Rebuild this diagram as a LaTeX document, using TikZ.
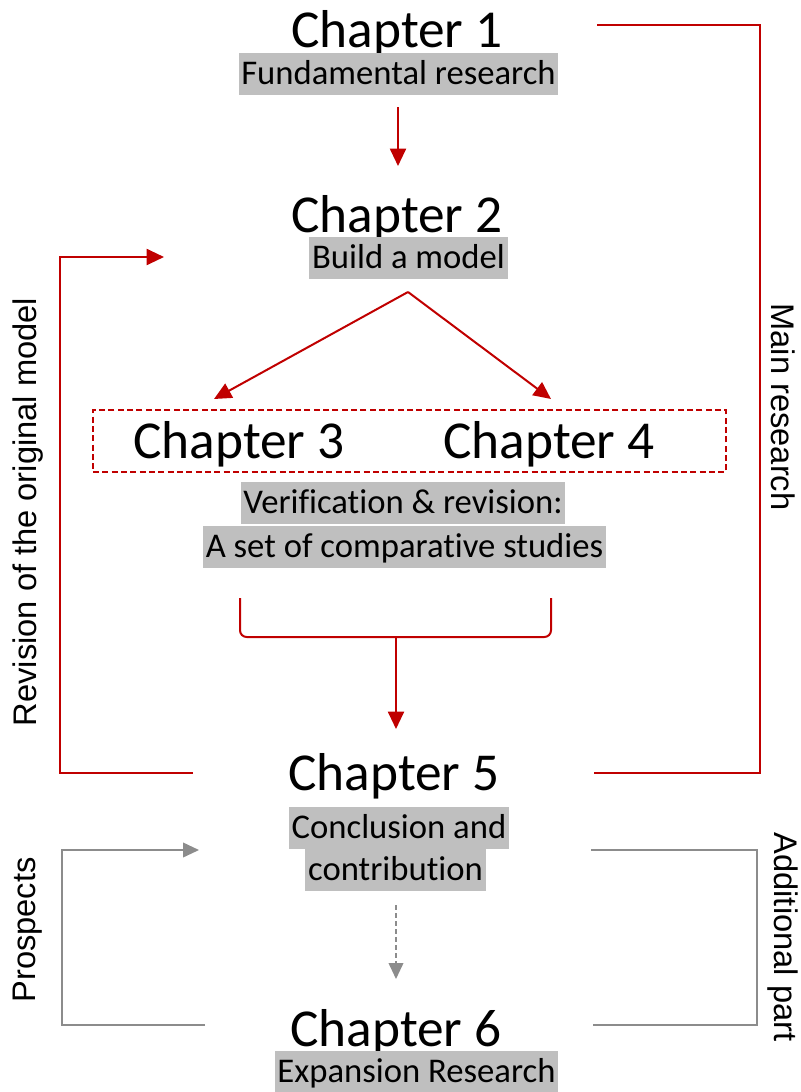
\documentclass[tikz,border=0pt]{standalone}
\usepackage{fontspec}
\setmainfont{Carlito}[Ligatures=NoCommon]
\newfontfamily\arialf{Liberation Sans}
\usetikzlibrary{arrows.meta}
\definecolor{darkred}{HTML}{C00000}
\definecolor{hlgray}{HTML}{BFBFBF}
\definecolor{linegray}{HTML}{8C8C8C}

\begin{document}
\begin{tikzpicture}[x=0.75pt,y=-0.75pt,
  chap/.style={font=\fontsize{40}{48}\selectfont, inner sep=0pt, anchor=base},
  sub/.style={font=\fontsize{26}{31}\selectfont, fill=hlgray, inner xsep=2pt, inner ysep=0pt,
              text height=23pt, text depth=8.5pt, anchor=base},
  side/.style={font=\arialf\fontsize{24.5}{29}\selectfont, inner sep=0pt},
  redline/.style={draw=darkred, line width=1.5pt},
  redarrow/.style={redline, -{Triangle[width=12pt,length=13pt]}},
  grayline/.style={draw=linegray, line width=1.3pt},
  grayarrow/.style={grayline, -{Triangle[width=11pt,length=12pt]}},
  groupbox/.style={draw=darkred, line width=1.2pt, dash pattern=on 4.5pt off 2.5pt,
                   minimum width=474.75pt, minimum height=46.5pt, inner sep=0pt}
]
\useasboundingbox (0,0) rectangle (800,1092);

% chapter titles
\node[chap] (ch1) at (397,47)   {Chapter 1};
\node[chap] (ch2) at (397,232)  {Chapter 2};
\node[chap] (ch3) at (239,458)  {Chapter 3};
\node[chap] (ch4) at (549,458)  {Chapter 4};
\node[chap] (ch5) at (394,790)  {Chapter 5};
\node[chap] (ch6) at (396,1046) {Chapter 6};

% highlighted descriptions
\node[sub] (fund)  at (398.5,84)  {Fundamental research};
\node[sub] (build) at (408.5,268) {Build a model};
\node[sub] (verif) at (403,513)   {Verification \& revision:};
\node[sub] (comp)  at (404.5,557) {A set of comparative studies};
\node[sub] (concl) at (399,838)   {Conclusion and};
\node[sub] (contr) at (395.5,880) {contribution};
\node[sub] (expan) at (416.5,1082) {Expansion Research};

% dashed frame around chapters 3 and 4
\node[groupbox] (grp) at (409.5,441) {};

% side labels
\node[side, rotate=90]  (rev)  at (28,512)  {Revision of the original model};
\node[side, rotate=-90] (main) at (783,407) {Main research};
\node[side, rotate=90]  (pros) at (28,930)  {Prospects};
\node[side, rotate=-90] (addi) at (783,937) {Additional part};

% connector end points
\coordinate (a1s) at (398,107);  \coordinate (a1e) at (398,166);
\coordinate (brS) at (408,292);
\coordinate (brL) at (214,399);  \coordinate (brR) at (551,399);
\coordinate (bkL) at (240,598);  \coordinate (bkR) at (551,598);
\coordinate (bkM) at (396,637);  \coordinate (bkE) at (396,729);
\coordinate (revS) at (193,773); \coordinate (revT) at (60,257);
\coordinate (revE) at (164,257);
\coordinate (mrS) at (597,25);   \coordinate (mrC) at (760,773);
\coordinate (mrE) at (594,773);
\coordinate (prS) at (205,1025); \coordinate (prT) at (62,850);
\coordinate (prE) at (199,850);
\coordinate (adS) at (591,850);  \coordinate (adC) at (757,1025);
\coordinate (adE) at (593,1025);
\coordinate (dsS) at (396,905);  \coordinate (dsE) at (396,979);

% main flow
\draw[redarrow] (a1s) -- (a1e);
\draw[redarrow] (brS) -- (brL);
\draw[redarrow] (brS) -- (brR);
\draw[redline, rounded corners=5pt] (bkL) |- (bkM) -| (bkR);
\draw[redarrow] (bkM) -- (bkE);

% feedback and span brackets
\draw[redarrow] (revS) -| (revT) -- (revE);
\draw[redline] (mrS) -| (mrC) -- (mrE);
\draw[grayarrow] (prS) -| (prT) -- (prE);
\draw[grayline] (adS) -| (adC) -- (adE);
\draw[grayarrow, dash pattern=on 3.5pt off 2.5pt] (dsS) -- (dsE);
\end{tikzpicture}
\end{document}
